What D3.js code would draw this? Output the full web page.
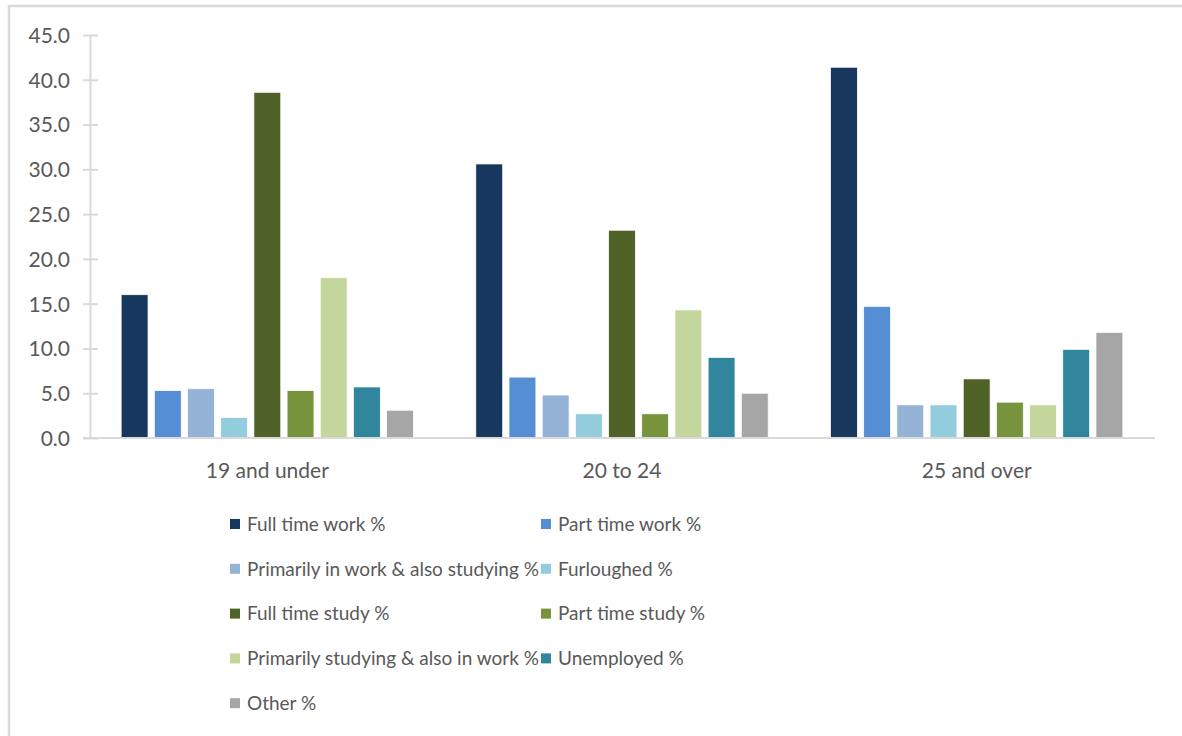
<!DOCTYPE html>
<html>
<head>
<meta charset="utf-8">
<script src="https://cdn.jsdelivr.net/npm/d3@7"></script>
<style>
  html, body { margin: 0; padding: 0; background: #fff; }
  svg { display: block; }
  text { font-family: Lato, "Noto Sans", sans-serif; fill: #595959; }
</style>
</head>
<body>
<svg id="chart" width="1182" height="736"></svg>
<script>
// Age groups along the x axis
const categories = ["19 and under", "20 to 24", "25 and over"];

// One entry per activity status, values are % of each age group
const seriesNames = [
  "Full time work %",
  "Part time work %",
  "Primarily in work & also studying %",
  "Furloughed %",
  "Full time study %",
  "Part time study %",
  "Primarily studying & also in work %",
  "Unemployed %",
  "Other %"
];

const fullTimeWork      = [16.0, 30.6, 41.4];
const partTimeWork      = [5.3, 6.8, 14.7];
const workAndStudying   = [5.5, 4.8, 3.7];
const furloughed        = [2.3, 2.7, 3.7];
const fullTimeStudy     = [38.6, 23.2, 6.6];
const partTimeStudy     = [5.3, 2.7, 4.0];
const studyingAndWork   = [17.9, 14.3, 3.7];
const unemployed        = [5.7, 9.0, 9.9];
const other             = [3.1, 5.0, 11.8];

const seriesValues = [
  fullTimeWork, partTimeWork, workAndStudying, furloughed,
  fullTimeStudy, partTimeStudy, studyingAndWork, unemployed, other
];

const seriesColors = [
  "#17375E", "#558ED5", "#95B3D7", "#93CDDD",
  "#4F6228", "#77933C", "#C3D69B", "#31859C", "#A6A6A6"
];

const yTicks = [0, 5, 10, 15, 20, 25, 30, 35, 40, 45];

const svg = d3.select("#chart");

// chart area frame
svg.append("rect")
  .attr("x", 9).attr("y", 6)
  .attr("width", 1300).attr("height", 800)
  .attr("fill", "none")
  .attr("stroke", "#d9d9d9")
  .attr("stroke-width", 2.5);

const plot = { left: 90, right: 1154, top: 35, bottom: 438 };

const x0 = d3.scaleBand()
  .domain(categories)
  .range([plot.left, plot.right])
  .padding(0);

const groupPad = 28;
const x1 = d3.scaleBand()
  .domain(seriesNames)
  .range([groupPad, x0.bandwidth() - groupPad])
  .paddingInner(0.19)
  .paddingOuter(0.095);

const y = d3.scaleLinear()
  .domain([0, 45])
  .range([plot.bottom, plot.top]);

// y axis
const yAxis = d3.axisLeft(y)
  .tickValues(yTicks)
  .tickFormat(d3.format(".1f"))
  .tickSizeInner(0)
  .tickSizeOuter(0)
  .tickPadding(20);

const yG = svg.append("g")
  .attr("transform", `translate(${plot.left},0)`)
  .call(yAxis);
yG.select(".domain").attr("stroke", "#d9d9d9").attr("stroke-width", 2);
yG.selectAll(".tick text")
  .style("font-size", "21px")
  .attr("fill", "#595959")
  .attr("dy", "0.35em");
// crossing tick marks
yG.selectAll(".tick").append("line")
  .attr("x1", -7).attr("x2", 8)
  .attr("stroke", "#d9d9d9").attr("stroke-width", 2);

// bars
const groups = svg.append("g")
  .selectAll("g")
  .data(categories)
  .join("g")
  .attr("transform", d => `translate(${x0(d)},0)`);

groups.selectAll("rect")
  .data((c, ci) => seriesNames.map((s, si) => ({ s, si, v: seriesValues[si][ci] })))
  .join("rect")
  .attr("x", d => x1(d.s))
  .attr("width", x1.bandwidth())
  .attr("y", d => y(d.v))
  .attr("height", d => y(0) - y(d.v))
  .attr("fill", d => seriesColors[d.si])
  .attr("stroke", "#ffffff")
  .attr("stroke-width", 0.75);

// x axis baseline and category labels
const xAxis = d3.axisBottom(x0).tickSize(0).tickPadding(25);
const xG = svg.append("g")
  .attr("transform", `translate(0,${plot.bottom})`)
  .call(xAxis);
xG.select(".domain").attr("stroke", "#d9d9d9").attr("stroke-width", 2)
  .attr("d", `M${plot.left - 7},0H${plot.right + 1}`);
xG.selectAll(".tick text")
  .style("font-size", "21px")
  .attr("fill", "#595959");

// legend, two columns
const legendCols = [230, 541];
const legendRowY = d => 524 + d * 44.8;
const legend = svg.append("g")
  .selectAll("g")
  .data(seriesNames)
  .join("g")
  .attr("transform", (d, i) => `translate(${legendCols[i % 2]},${legendRowY(Math.floor(i / 2))})`);

legend.append("rect")
  .attr("x", 0).attr("y", -5)
  .attr("width", 10).attr("height", 10)
  .attr("fill", (d, i) => seriesColors[i]);

legend.append("text")
  .attr("x", 17)
  .attr("dy", "0.36em")
  .style("font-size", "19px")
  .text(d => d);
</script>
</body>
</html>
